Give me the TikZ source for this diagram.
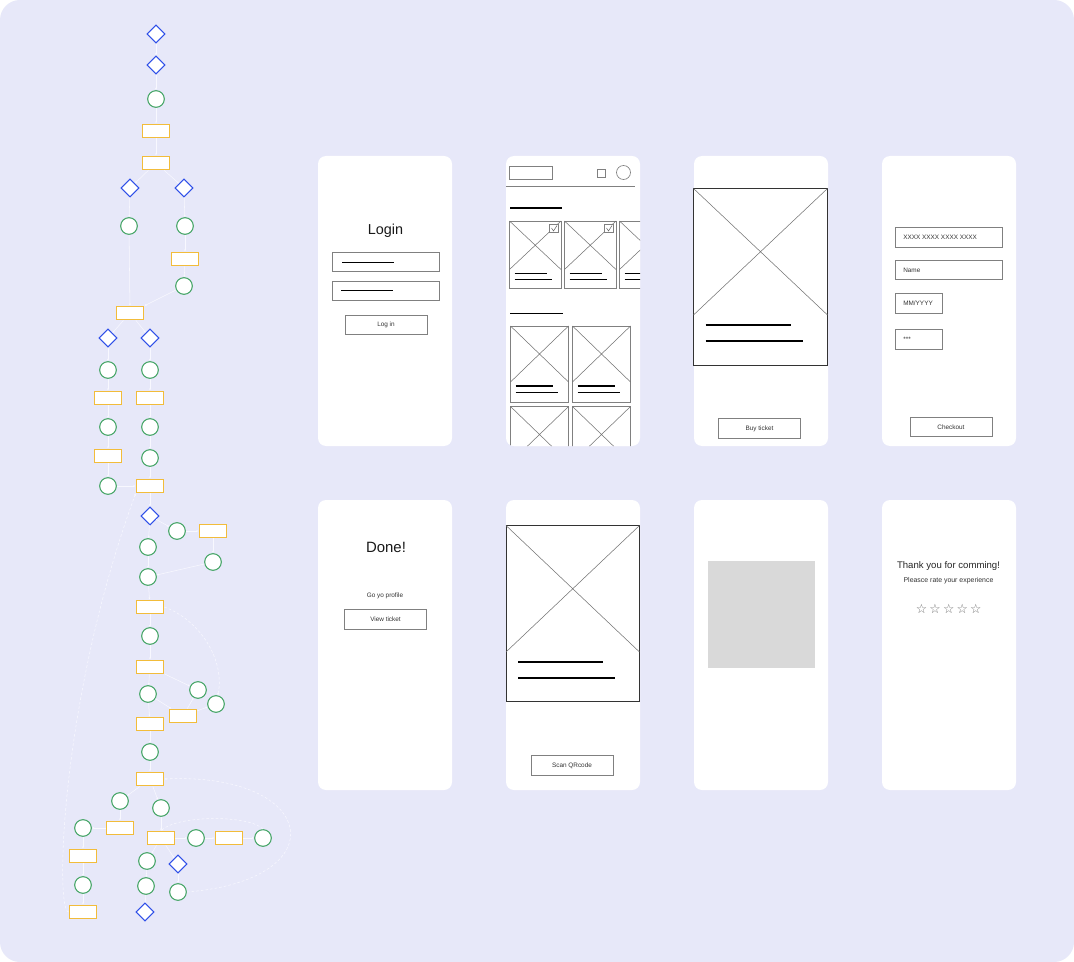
\documentclass[tikz,border=0pt]{standalone}
\usepackage{fontspec}
\setmainfont{Liberation Sans}
\newfontfamily\starfont{DejaVu Sans}
\usetikzlibrary{shapes.geometric,arrows.meta}
\definecolor{canvas}{HTML}{E7E8F9}
\definecolor{decblue}{HTML}{2F50E8}
\definecolor{stepgreen}{HTML}{45A566}
\definecolor{boxyellow}{HTML}{F2BC3A}
\definecolor{linkwhite}{HTML}{F8F8FF}
\definecolor{pholder}{HTML}{D9D9D9}
\def\xbox(#1,#2)(#3,#4){\draw[xline] (#1,#2) -- (#3,#4) (#3,#2) -- (#1,#4);}

\begin{document}
\begin{tikzpicture}[x=0.75pt,y=-0.75pt,
	dec/.style={diamond,draw=decblue,fill=white,line width=0.8pt,inner sep=0pt,minimum width=13.5pt,minimum height=13.5pt},
	stepnode/.style={circle,draw=stepgreen,fill=white,line width=0.8pt,inner sep=0pt,minimum size=12.5pt},
	task/.style={rectangle,draw=boxyellow,fill=white,line width=1pt,inner sep=0pt,minimum width=20.5pt,minimum height=10pt},
	link/.style={draw=linkwhite,line width=0.4pt,-{Latex[length=1.6pt,width=1.6pt]}},
	looplink/.style={link,dashed,dash pattern=on 2pt off 1.5pt},
	screen/.style={fill=white,rounded corners=6pt},
	field/.style={draw=black!50,line width=0.5pt,fill=white},
	frame/.style={draw=black!80,line width=0.6pt},
	xline/.style={draw=black!55,line width=0.4pt},
	bar/.style={line width=1.3pt,black},
	thickbar/.style={line width=1.8pt,black},
	thinbar/.style={line width=0.85pt,black},
	label/.style={font=\fontsize{4.8}{5}\selectfont,text=black!80,inner sep=0pt},
	heading/.style={font=\fontsize{10.8}{12}\selectfont,text=black!90,inner sep=0pt}]

	% canvas
	\useasboundingbox (0,0) rectangle (1074,962);
	\fill[white] (0,0) rectangle (1074,962);
	\fill[canvas,rounded corners=15pt] (0,0) rectangle (1074,962);

	%%%%% FLOW %%%%%
	\node[dec] (d1) at (156,34) {};
	\node[dec] (d2) at (156,65) {};
	\node[stepnode] (c1) at (156,99) {};
	\node[task] (r1) at (156,131) {};
	\node[task] (r2) at (156,163) {};
	\node[dec] (d3) at (130,188) {};
	\node[dec] (d4) at (184,188) {};
	\node[stepnode] (c2) at (129,226) {};
	\node[stepnode] (c3) at (185,226) {};
	\node[task] (r3) at (185,259) {};
	\node[stepnode] (c4) at (184,286) {};
	\node[task] (r4) at (130,313) {};
	\node[dec] (d5) at (108,338) {};
	\node[dec] (d6) at (150,338) {};
	\node[stepnode] (c5) at (108,370) {};
	\node[stepnode] (c6) at (150,370) {};
	\node[task] (r5) at (108,398) {};
	\node[task] (r6) at (150,398) {};
	\node[stepnode] (c7) at (108,427) {};
	\node[stepnode] (c8) at (150,427) {};
	\node[task] (r7) at (108,456) {};
	\node[stepnode] (c9) at (150,458) {};
	\node[stepnode] (c10) at (108,486) {};
	\node[task] (r8) at (150,486) {};
	\node[dec] (d7) at (150,516) {};
	\node[stepnode] (c11) at (177,531) {};
	\node[task] (r9) at (213,531) {};
	\node[stepnode] (c12) at (148,547) {};
	\node[stepnode] (c13) at (213,562) {};
	\node[stepnode] (c14) at (148,577) {};
	\node[task] (r10) at (150,607) {};
	\node[stepnode] (c15) at (150,636) {};
	\node[task] (r11) at (150,667) {};
	\node[stepnode] (c16) at (148,694) {};
	\node[stepnode] (c17) at (198,690) {};
	\node[stepnode] (c18) at (216,704) {};
	\node[task] (r12) at (183,716) {};
	\node[task] (r13) at (150,724) {};
	\node[stepnode] (c19) at (150,752) {};
	\node[task] (r14) at (150,779) {};
	\node[stepnode] (c20) at (120,801) {};
	\node[stepnode] (c21) at (161,808) {};
	\node[stepnode] (c22) at (83,828) {};
	\node[task] (r15) at (120,828) {};
	\node[task] (r16) at (161,838) {};
	\node[stepnode] (c23) at (196,838) {};
	\node[task] (r17) at (229,838) {};
	\node[stepnode] (c24) at (263,838) {};
	\node[task] (r18) at (83,856) {};
	\node[stepnode] (c25) at (147,861) {};
	\node[dec] (d8) at (178,864) {};
	\node[stepnode] (c26) at (83,885) {};
	\node[stepnode] (c27) at (146,886) {};
	\node[stepnode] (c28) at (178,892) {};
	\node[task] (r19) at (83,912) {};
	\node[dec] (d9) at (145,912) {};

	\draw[link] (d1) -- (d2);
	\draw[link] (d2) -- (c1);
	\draw[link] (c1) -- (r1);
	\draw[link] (r1) -- (r2);
	\draw[link] (r2) -- (d3);
	\draw[link] (r2) -- (d4);
	\draw[link] (d3) -- (c2);
	\draw[link] (d4) -- (c3);
	\draw[link] (c3) -- (r3);
	\draw[link] (r3) -- (c4);
	\draw[link] (c2) -- (r4);
	\draw[link] (c4) -- (r4);
	\draw[link] (r4) -- (d5);
	\draw[link] (r4) -- (d6);
	\draw[link] (d5) -- (c5);
	\draw[link] (c5) -- (r5);
	\draw[link] (r5) -- (c7);
	\draw[link] (c7) -- (r7);
	\draw[link] (r7) -- (c10);
	\draw[link] (c10) -- (r8);
	\draw[link] (d6) -- (c6);
	\draw[link] (c6) -- (r6);
	\draw[link] (r6) -- (c8);
	\draw[link] (c8) -- (c9);
	\draw[link] (c9) -- (r8);
	\draw[link] (r8) -- (d7);
	\draw[link] (d7) -- (c11);
	\draw[link] (c11) -- (r9);
	\draw[link] (r9) -- (c13);
	\draw[link] (c13) -- (c14);
	\draw[link] (d7) -- (c12);
	\draw[link] (c12) -- (c14);
	\draw[link] (c14) -- (r10);
	\draw[link] (r10) -- (c15);
	\draw[link] (c15) -- (r11);
	\draw[link] (r11) -- (c17);
	\draw[link] (r11) -- (c16);
	\draw[link] (c16) -- (r12);
	\draw[link] (r12) -- (c17);
	\draw[link] (r12) -- (c18);
	\draw[looplink] (r10.east) .. controls (200,620) and (225,660) .. (c18);
	\draw[link] (c16) -- (r13);
	\draw[link] (r13) -- (c19);
	\draw[link] (c19) -- (r14);
	\draw[link] (r14) -- (c20);
	\draw[link] (r14) -- (c21);
	\draw[link] (c20) -- (r15);
	\draw[link] (r15) -- (c22);
	\draw[link] (c22) -- (r18);
	\draw[link] (r18) -- (c26);
	\draw[link] (c26) -- (r19);
	\draw[link] (c21) -- (r16);
	\draw[link] (r16) -- (c23);
	\draw[link] (c23) -- (r17);
	\draw[link] (r17) -- (c24);
	\draw[looplink] (c24.north) .. controls (250,815) and (180,815) .. (r16.north);
	\draw[link] (r16) -- (c25);
	\draw[link] (r16) -- (d8);
	\draw[link] (c25) -- (c27);
	\draw[link] (c27) -- (d9);
	\draw[link] (d8) -- (c28);
	\draw[looplink] (c28.east) .. controls (338,880) and (318,772) .. (r14.east);
	\draw[looplink] (r19.west) .. controls (55,912) and (60,700) .. (r8.south west);

	%%%%% SCREENS %%%%%
	\foreach \sx in {318,506,694,882}{
		\fill[screen] (\sx,156) rectangle ++(134,290);
		\fill[screen] (\sx,500) rectangle ++(134,290);
	}

	% login
	\node[heading] (login) at (385.5,230.5) {Login};
	\draw[field] (332,252) rectangle (439,271);
	\draw[bar] (342,262.5) -- (394,262.5);
	\draw[field] (332,281) rectangle (439,300);
	\draw[bar] (341,290.5) -- (393,290.5);
	\draw[field] (345,315) rectangle (427,334);
	\node[label] at (386,324.5) {Log in};

	% home feed
	\begin{scope}
		\clip[rounded corners=6pt] (506,156) rectangle (640,446);
		\draw[field] (509.5,166) rectangle (552.5,179);
		\draw[field] (597.5,169) rectangle (605.5,177);
		\draw[field] (623.5,172.5) circle (7);
		\draw[black!50,line width=0.5pt] (506,186) -- (635,186);
		\draw[bar] (510,208) -- (562,208);
		\foreach \cx in {509.5,564.5,619.5}{
			\draw[field] (\cx,221) rectangle ++(51.5,67.5);
			\xbox(\cx,221)(\cx+51.5,269.5)
			\draw[thinbar] (\cx+5,273.5) -- ++(32,0);
			\draw[thinbar] (\cx+5,279.5) -- ++(37,0);
		}
		\foreach \cx in {549.5,604.5}{
			\draw[field,line width=0.4pt] (\cx,224) rectangle ++(9,8.5);
			\draw[black!60,line width=0.4pt] (\cx+2,228) -- (\cx+4,231) -- (\cx+7.5,225.5);
		}
		\draw[bar] (510,313.5) -- (563,313.5);
		\foreach \cx in {510.5,572.5}{
			\draw[field] (\cx,326) rectangle ++(58,76.5);
			\xbox(\cx,326)(\cx+58,382)
			\draw[thinbar] (\cx+5,386) -- ++(37,0);
			\draw[thinbar] (\cx+5,392.5) -- ++(42,0);
			\draw[field] (\cx,406.5) rectangle ++(58,76.5);
			\xbox(\cx,406.5)(\cx+58,462.5)
		}
	\end{scope}

	% ticket detail
	\draw[frame,fill=white] (693.5,188.5) rectangle (827.5,365);
	\xbox(693.5,188.5)(827.5,315)
	\draw[thickbar] (705.5,325) -- (791,325);
	\draw[thickbar] (705.5,341) -- (803,341);
	\draw[field] (718.5,418.5) rectangle (800.5,438.5);
	\node[label] at (759.5,428.5) {Buy ticket};

	% payment
	\draw[field] (895.5,227.5) rectangle (1002.5,247.5);
	\node[label,anchor=west] at (903,237.5) {XXXX XXXX XXXX XXXX};
	\draw[field] (895.5,260) rectangle (1002.5,279.5);
	\node[label,anchor=west] at (903,270) {Name};
	\draw[field] (895.5,293.5) rectangle (942,313.5);
	\node[label,anchor=west] at (903,303.5) {MM/YYYY};
	\draw[field] (895.5,329.5) rectangle (942,349);
	\node[label,anchor=west] at (903,339.5) {***};
	\draw[field] (910,417.5) rectangle (992.5,436.5);
	\node[label] at (951,427) {Checkout};

	% done
	\node[heading,font=\fontsize{11.2}{13}\selectfont] (done) at (386,547.5) {Done!};
	\node[label] at (385,595.5) {Go yo profile};
	\draw[field] (344.5,609.5) rectangle (426.5,629.5);
	\node[label] at (385.5,619.5) {View ticket};

	% ticket view
	\draw[frame,fill=white] (506,525.5) rectangle (639.5,701.5);
	\xbox(506,525.5)(639.5,652)
	\draw[thickbar] (518,662) -- (603,662);
	\draw[thickbar] (518,678) -- (615,678);
	\draw[field] (531,755.5) rectangle (613,775.5);
	\node[label] at (572,765.5) {Scan QRcode};

	% qr placeholder
	\fill[pholder] (708,561) rectangle (815,668);

	% rating
	\node[font=\fontsize{7.2}{8}\selectfont,text=black!85,inner sep=0pt] (thanks) at (948.5,566.5) {Thank you for comming!};
	\node[font=\fontsize{5.2}{6}\selectfont,text=black!80,inner sep=0pt] (rate) at (948.5,580.5) {Pleasce rate your experience};
	\foreach \i in {0,...,4}
		\node[font=\starfont\fontsize{9.5}{10}\selectfont,text=black!55,inner sep=0pt] at (921.5+13.6*\i,609) {☆};

\end{tikzpicture}
\end{document}
